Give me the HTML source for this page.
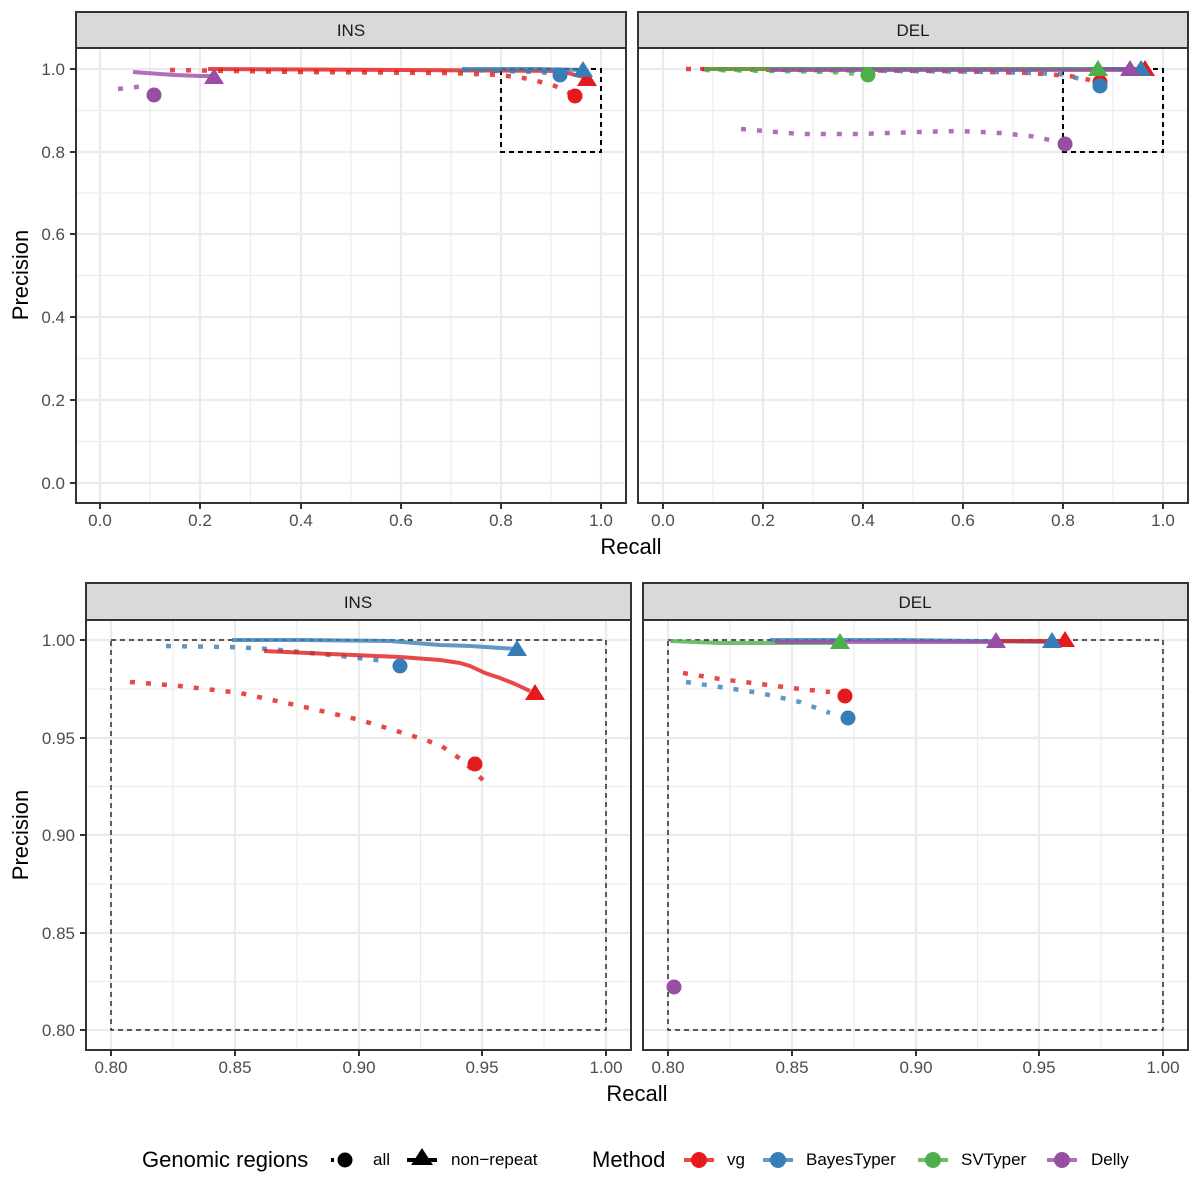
<!DOCTYPE html>
<html><head><meta charset="utf-8"><style>
html,body{margin:0;padding:0;background:#fff;width:1200px;height:1200px;overflow:hidden}
svg{display:block;font-family:"Liberation Sans",sans-serif}
.tk{font-size:17px;fill:#4d4d4d}
.gmaj{stroke:#ebebeb;stroke-width:2.2}
.gmin{stroke:#ebebeb;stroke-width:1.1}
.fr{fill:none;stroke:#333;stroke-width:2}
.st{fill:#d9d9d9;stroke:#333;stroke-width:2}
.tick{stroke:#333;stroke-width:2}
.ln{fill:none;stroke-width:4;stroke-linejoin:round;stroke-opacity:.8}
.dt{fill:none;stroke-width:4.5;stroke-dasharray:5 11;stroke-opacity:.8}
.r{stroke:#E41A1C}.b{stroke:#377EB8}.g{stroke:#4DAF4A}.p{stroke:#984EA3}
</style></head><body>
<svg width="1200" height="1200" viewBox="0 0 1200 1200">
<!-- ===== TOP INS ===== -->
<rect x="76" y="48" width="550" height="455" fill="#fff"/>
<g>
<line class="gmin" x1="76" x2="626" y1="110.5" y2="110.5"/><line class="gmin" x1="76" x2="626" y1="193" y2="193"/><line class="gmin" x1="76" x2="626" y1="275.5" y2="275.5"/><line class="gmin" x1="76" x2="626" y1="358.5" y2="358.5"/><line class="gmin" x1="76" x2="626" y1="441.5" y2="441.5"/>
<line class="gmin" y1="48" y2="503" x1="150" x2="150"/><line class="gmin" y1="48" y2="503" x1="250.5" x2="250.5"/><line class="gmin" y1="48" y2="503" x1="351" x2="351"/><line class="gmin" y1="48" y2="503" x1="451" x2="451"/><line class="gmin" y1="48" y2="503" x1="551" x2="551"/>
<line class="gmaj" x1="76" x2="626" y1="69" y2="69"/><line class="gmaj" x1="76" x2="626" y1="152" y2="152"/><line class="gmaj" x1="76" x2="626" y1="234" y2="234"/><line class="gmaj" x1="76" x2="626" y1="317" y2="317"/><line class="gmaj" x1="76" x2="626" y1="400" y2="400"/><line class="gmaj" x1="76" x2="626" y1="483" y2="483"/>
<line class="gmaj" y1="48" y2="503" x1="100" x2="100"/><line class="gmaj" y1="48" y2="503" x1="200" x2="200"/><line class="gmaj" y1="48" y2="503" x1="301" x2="301"/><line class="gmaj" y1="48" y2="503" x1="401" x2="401"/><line class="gmaj" y1="48" y2="503" x1="501" x2="501"/><line class="gmaj" y1="48" y2="503" x1="601" x2="601"/>
</g>
<rect x="501" y="69" width="100" height="83" fill="none" stroke="#000" stroke-width="2" stroke-dasharray="5 4"/>
<polyline class="dt r" points="170,70 300,72 450,73 500,75 530,79 555,86 572,94"/>
<polyline class="ln r" points="208,69 400,70 560,71 587,78"/>
<polyline class="dt b" points="462,70 540,72 560,75"/>
<polyline class="ln b" points="462,69 540,69 583,70"/>
<polyline class="dt p" points="118,89 145,86"/>
<polyline class="ln p" points="133,72 160,74 175,75 200,76 214,76"/>
<circle cx="575" cy="96" r="7.5" fill="#E41A1C"/>
<polygon points="577,86 597,86 587,70" fill="#E41A1C"/>
<circle cx="560" cy="75" r="7.5" fill="#377EB8"/>
<polygon points="573,77 593,77 583,61" fill="#377EB8"/>
<circle cx="154" cy="95" r="7.5" fill="#984EA3"/>
<polygon points="204,84 224,84 214,68" fill="#984EA3"/>
<rect class="fr" x="76" y="48" width="550" height="455"/>
<rect class="st" x="76" y="12" width="550" height="36"/>
<text x="351" y="36" text-anchor="middle" font-size="17" fill="#1a1a1a">INS</text>

<!-- ===== TOP DEL ===== -->
<rect x="638" y="48" width="550" height="455" fill="#fff"/>
<g>
<line class="gmin" x1="638" x2="1188" y1="110.5" y2="110.5"/><line class="gmin" x1="638" x2="1188" y1="193" y2="193"/><line class="gmin" x1="638" x2="1188" y1="275.5" y2="275.5"/><line class="gmin" x1="638" x2="1188" y1="358.5" y2="358.5"/><line class="gmin" x1="638" x2="1188" y1="441.5" y2="441.5"/>
<line class="gmin" y1="48" y2="503" x1="713" x2="713"/><line class="gmin" y1="48" y2="503" x1="813" x2="813"/><line class="gmin" y1="48" y2="503" x1="913" x2="913"/><line class="gmin" y1="48" y2="503" x1="1013" x2="1013"/><line class="gmin" y1="48" y2="503" x1="1113" x2="1113"/>
<line class="gmaj" x1="638" x2="1188" y1="69" y2="69"/><line class="gmaj" x1="638" x2="1188" y1="152" y2="152"/><line class="gmaj" x1="638" x2="1188" y1="234" y2="234"/><line class="gmaj" x1="638" x2="1188" y1="317" y2="317"/><line class="gmaj" x1="638" x2="1188" y1="400" y2="400"/><line class="gmaj" x1="638" x2="1188" y1="483" y2="483"/>
<line class="gmaj" y1="48" y2="503" x1="663" x2="663"/><line class="gmaj" y1="48" y2="503" x1="763" x2="763"/><line class="gmaj" y1="48" y2="503" x1="863" x2="863"/><line class="gmaj" y1="48" y2="503" x1="963" x2="963"/><line class="gmaj" y1="48" y2="503" x1="1063" x2="1063"/><line class="gmaj" y1="48" y2="503" x1="1163" x2="1163"/>
</g>
<rect x="1063" y="69" width="100" height="83" fill="none" stroke="#000" stroke-width="2" stroke-dasharray="5 4"/>
<polyline class="dt p" points="741,129 800,134 860,134 920,132 960,131 1000,133 1030,136 1050,140 1060,143"/>
<polyline class="dt r" points="686,69 800,70 950,71 1030,73 1070,76 1090,80"/>
<polyline class="dt b" points="770,70 900,71 1000,72 1060,74 1085,80"/>
<polyline class="dt g" points="705,70 780,71 830,72 860,74"/>
<polyline class="ln r" points="700,69 900,69 1143,69"/>
<polyline class="ln b" points="770,69 1141,69"/>
<polyline class="ln g" points="704,69 900,69 1098,69"/>
<polyline class="ln p" points="770,70 1000,70 1130,70"/>
<circle cx="1100" cy="82" r="7.5" fill="#E41A1C"/>
<circle cx="1100" cy="86" r="7.5" fill="#377EB8"/>
<circle cx="868" cy="75" r="7.5" fill="#4DAF4A"/>
<circle cx="1065" cy="144" r="7.5" fill="#984EA3"/>
<polygon points="1135,76 1155,76 1145,60" fill="#E41A1C"/>
<polygon points="1131,76 1151,76 1141,60" fill="#377EB8"/>
<polygon points="1120,76 1140,76 1130,60" fill="#984EA3"/>
<polygon points="1088,76 1108,76 1098,60" fill="#4DAF4A"/>
<rect class="fr" x="638" y="48" width="550" height="455"/>
<rect class="st" x="638" y="12" width="550" height="36"/>
<text x="913" y="36" text-anchor="middle" font-size="17" fill="#1a1a1a">DEL</text>

<!-- top axes -->
<g class="tk" text-anchor="end">
<text x="65" y="75">1.0</text><text x="65" y="158">0.8</text><text x="65" y="240">0.6</text><text x="65" y="323">0.4</text><text x="65" y="406">0.2</text><text x="65" y="489">0.0</text>
</g>
<g class="tick"><line x1="70" x2="76" y1="69" y2="69"/><line x1="70" x2="76" y1="152" y2="152"/><line x1="70" x2="76" y1="234" y2="234"/><line x1="70" x2="76" y1="317" y2="317"/><line x1="70" x2="76" y1="400" y2="400"/><line x1="70" x2="76" y1="483" y2="483"/>
<line y1="503" y2="509" x1="100" x2="100"/><line y1="503" y2="509" x1="200" x2="200"/><line y1="503" y2="509" x1="301" x2="301"/><line y1="503" y2="509" x1="401" x2="401"/><line y1="503" y2="509" x1="501" x2="501"/><line y1="503" y2="509" x1="601" x2="601"/>
<line y1="503" y2="509" x1="663" x2="663"/><line y1="503" y2="509" x1="763" x2="763"/><line y1="503" y2="509" x1="863" x2="863"/><line y1="503" y2="509" x1="963" x2="963"/><line y1="503" y2="509" x1="1063" x2="1063"/><line y1="503" y2="509" x1="1163" x2="1163"/></g>
<g class="tk" text-anchor="middle">
<text x="100" y="526">0.0</text><text x="200" y="526">0.2</text><text x="301" y="526">0.4</text><text x="401" y="526">0.6</text><text x="501" y="526">0.8</text><text x="601" y="526">1.0</text>
<text x="663" y="526">0.0</text><text x="763" y="526">0.2</text><text x="863" y="526">0.4</text><text x="963" y="526">0.6</text><text x="1063" y="526">0.8</text><text x="1163" y="526">1.0</text>
</g>
<text x="631" y="554" text-anchor="middle" font-size="22">Recall</text>
<text transform="translate(28,275) rotate(-90)" text-anchor="middle" font-size="22">Precision</text>

<!-- ===== BOTTOM INS ===== -->
<rect x="86" y="620" width="545" height="430" fill="#fff"/>
<g>
<line class="gmin" x1="86" x2="631" y1="689" y2="689"/><line class="gmin" x1="86" x2="631" y1="786.5" y2="786.5"/><line class="gmin" x1="86" x2="631" y1="884" y2="884"/><line class="gmin" x1="86" x2="631" y1="981.5" y2="981.5"/>
<line class="gmin" y1="620" y2="1050" x1="173" x2="173"/><line class="gmin" y1="620" y2="1050" x1="297" x2="297"/><line class="gmin" y1="620" y2="1050" x1="420.5" x2="420.5"/><line class="gmin" y1="620" y2="1050" x1="544" x2="544"/>
<line class="gmaj" x1="86" x2="631" y1="640" y2="640"/><line class="gmaj" x1="86" x2="631" y1="738" y2="738"/><line class="gmaj" x1="86" x2="631" y1="835" y2="835"/><line class="gmaj" x1="86" x2="631" y1="933" y2="933"/><line class="gmaj" x1="86" x2="631" y1="1030" y2="1030"/>
<line class="gmaj" y1="620" y2="1050" x1="111" x2="111"/><line class="gmaj" y1="620" y2="1050" x1="235" x2="235"/><line class="gmaj" y1="620" y2="1050" x1="359" x2="359"/><line class="gmaj" y1="620" y2="1050" x1="482" x2="482"/><line class="gmaj" y1="620" y2="1050" x1="606" x2="606"/>
</g>
<rect x="111" y="640" width="495" height="390" fill="none" stroke="#000" stroke-width="1.2" stroke-dasharray="5 4"/>
<polyline class="dt r" points="130,682 180,686 240,693 300,706 360,720 410,735 440,745 462,760 485,782"/>
<polyline class="dt b" points="166,646 230,647 270,649 300,652 340,656 385,661"/>
<polyline class="ln b" points="232,640 300,640 390,641 440,645 470,646 517,649"/>
<polyline class="ln r" points="264,651 330,654 400,657 440,660 460,663 470,666 485,673 500,678 515,684 530,691"/>
<circle cx="475" cy="764" r="7.5" fill="#E41A1C"/>
<circle cx="400" cy="666" r="7.5" fill="#377EB8"/>
<polygon points="525,700 545,700 535,684" fill="#E41A1C"/>
<polygon points="507,656 527,656 517,640" fill="#377EB8"/>
<rect class="fr" x="86" y="620" width="545" height="430"/>
<rect class="st" x="86" y="583" width="545" height="37"/>
<text x="358" y="608" text-anchor="middle" font-size="17" fill="#1a1a1a">INS</text>

<!-- ===== BOTTOM DEL ===== -->
<rect x="643" y="620" width="545" height="430" fill="#fff"/>
<g>
<line class="gmin" x1="643" x2="1188" y1="689" y2="689"/><line class="gmin" x1="643" x2="1188" y1="786.5" y2="786.5"/><line class="gmin" x1="643" x2="1188" y1="884" y2="884"/><line class="gmin" x1="643" x2="1188" y1="981.5" y2="981.5"/>
<line class="gmin" y1="620" y2="1050" x1="730" x2="730"/><line class="gmin" y1="620" y2="1050" x1="854" x2="854"/><line class="gmin" y1="620" y2="1050" x1="977.5" x2="977.5"/><line class="gmin" y1="620" y2="1050" x1="1101" x2="1101"/>
<line class="gmaj" x1="643" x2="1188" y1="640" y2="640"/><line class="gmaj" x1="643" x2="1188" y1="738" y2="738"/><line class="gmaj" x1="643" x2="1188" y1="835" y2="835"/><line class="gmaj" x1="643" x2="1188" y1="933" y2="933"/><line class="gmaj" x1="643" x2="1188" y1="1030" y2="1030"/>
<line class="gmaj" y1="620" y2="1050" x1="668" x2="668"/><line class="gmaj" y1="620" y2="1050" x1="792" x2="792"/><line class="gmaj" y1="620" y2="1050" x1="916" x2="916"/><line class="gmaj" y1="620" y2="1050" x1="1039" x2="1039"/><line class="gmaj" y1="620" y2="1050" x1="1163" x2="1163"/>
</g>
<rect x="668" y="640" width="495" height="390" fill="none" stroke="#000" stroke-width="1.2" stroke-dasharray="5 4"/>
<polyline class="dt r" points="683,673 720,679 760,684 800,689 830,692"/>
<polyline class="dt b" points="686,682 720,687 760,693 800,702 830,713"/>
<polyline class="ln g" points="670,641 720,643 840,643"/>
<polyline class="ln b" points="770,640 900,640 1052,642"/>
<polyline class="ln r" points="1000,641 1065,641"/>
<polyline class="ln p" points="775,642 996,642"/>
<circle cx="845" cy="696" r="7.5" fill="#E41A1C"/>
<circle cx="848" cy="718" r="7.5" fill="#377EB8"/>
<circle cx="674" cy="987" r="7.5" fill="#984EA3"/>
<polygon points="830,649 850,649 840,633" fill="#4DAF4A"/>
<polygon points="986,648 1006,648 996,632" fill="#984EA3"/>
<polygon points="1055,647 1075,647 1065,631" fill="#E41A1C"/>
<polygon points="1042,648 1062,648 1052,632" fill="#377EB8"/>
<rect class="fr" x="643" y="620" width="545" height="430"/>
<rect class="st" x="643" y="583" width="545" height="37"/>
<text x="915" y="608" text-anchor="middle" font-size="17" fill="#1a1a1a">DEL</text>

<!-- bottom axes -->
<g class="tk" text-anchor="end">
<text x="75" y="646">1.00</text><text x="75" y="744">0.95</text><text x="75" y="841">0.90</text><text x="75" y="939">0.85</text><text x="75" y="1036">0.80</text>
</g>
<g class="tick"><line x1="80" x2="86" y1="640" y2="640"/><line x1="80" x2="86" y1="738" y2="738"/><line x1="80" x2="86" y1="835" y2="835"/><line x1="80" x2="86" y1="933" y2="933"/><line x1="80" x2="86" y1="1030" y2="1030"/>
<line y1="1050" y2="1056" x1="111" x2="111"/><line y1="1050" y2="1056" x1="235" x2="235"/><line y1="1050" y2="1056" x1="359" x2="359"/><line y1="1050" y2="1056" x1="482" x2="482"/><line y1="1050" y2="1056" x1="606" x2="606"/>
<line y1="1050" y2="1056" x1="668" x2="668"/><line y1="1050" y2="1056" x1="792" x2="792"/><line y1="1050" y2="1056" x1="916" x2="916"/><line y1="1050" y2="1056" x1="1039" x2="1039"/><line y1="1050" y2="1056" x1="1163" x2="1163"/></g>
<g class="tk" text-anchor="middle">
<text x="111" y="1073">0.80</text><text x="235" y="1073">0.85</text><text x="359" y="1073">0.90</text><text x="482" y="1073">0.95</text><text x="606" y="1073">1.00</text>
<text x="668" y="1073">0.80</text><text x="792" y="1073">0.85</text><text x="916" y="1073">0.90</text><text x="1039" y="1073">0.95</text><text x="1163" y="1073">1.00</text>
</g>
<text x="637" y="1101" text-anchor="middle" font-size="22">Recall</text>
<text transform="translate(28,835) rotate(-90)" text-anchor="middle" font-size="22">Precision</text>

<!-- legend -->
<text x="142" y="1167" font-size="22">Genomic regions</text>
<line x1="331" x2="337" y1="1160" y2="1160" stroke="#000" stroke-width="4" stroke-dasharray="3 3"/>
<circle cx="345" cy="1160" r="7.5" fill="#000"/>
<text x="373" y="1165" font-size="17">all</text>
<line x1="407" x2="437" y1="1160" y2="1160" stroke="#000" stroke-width="4"/>
<polygon points="411,1165 433,1165 422,1148" fill="#000"/>
<text x="451" y="1165" font-size="17">non−repeat</text>
<text x="592" y="1167" font-size="22">Method</text>
<line x1="684" x2="714" y1="1160" y2="1160" stroke="#E41A1C" stroke-width="4" stroke-opacity=".8"/><circle cx="699" cy="1160" r="8" fill="#E41A1C"/>
<text x="727" y="1165" font-size="17">vg</text>
<line x1="763" x2="793" y1="1160" y2="1160" stroke="#377EB8" stroke-width="4" stroke-opacity=".8"/><circle cx="778" cy="1160" r="8" fill="#377EB8"/>
<text x="806" y="1165" font-size="17">BayesTyper</text>
<line x1="918" x2="948" y1="1160" y2="1160" stroke="#4DAF4A" stroke-width="4" stroke-opacity=".8"/><circle cx="933" cy="1160" r="8" fill="#4DAF4A"/>
<text x="961" y="1165" font-size="17">SVTyper</text>
<line x1="1047" x2="1077" y1="1160" y2="1160" stroke="#984EA3" stroke-width="4" stroke-opacity=".8"/><circle cx="1062" cy="1160" r="8" fill="#984EA3"/>
<text x="1091" y="1165" font-size="17">Delly</text>
</svg>
</body></html>
